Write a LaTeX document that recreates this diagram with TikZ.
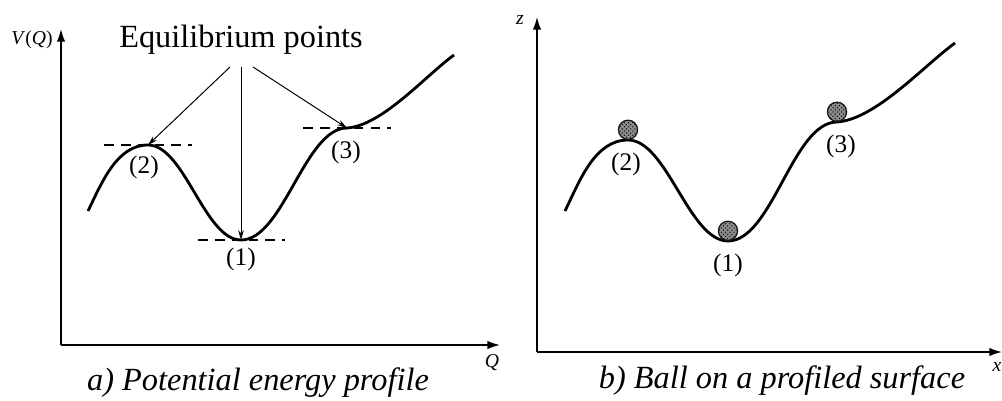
\documentclass[tikz,border=0pt]{standalone}
\usepackage{fontspec}
\setmainfont{Liberation Serif}
\usetikzlibrary{arrows.meta,patterns}

\begin{document}
\begin{tikzpicture}[x=0.025cm,y=-0.025cm,
  axis/.style={line width=1.1pt,-{Latex[length=9pt,width=6pt]}},
  curve/.style={line width=2pt},
  level/.style={line width=0.9pt,dash pattern=on 7pt off 5pt},
  pointer/.style={line width=0.7pt,-{Stealth[length=7pt,width=4pt]}},
  ball/.style={circle,draw=black!90,line width=0.9pt,minimum size=0.48cm,inner sep=0pt,
    fill=black!45,postaction={pattern=crosshatch dots,pattern color=black}},
  lbl/.style={font=\fontsize{18}{20}\selectfont},
  axlbl/.style={font=\fontsize{14}{16}\selectfont\itshape},
  caption/.style={font=\fontsize{23}{25}\selectfont\itshape}]
  \useasboundingbox (0,0) rectangle (1002,401);

  % a) potential energy profile
  \coordinate (a-o) at (61,345);
  \coordinate (a-ytip) at (61,29);
  \coordinate (a-xtip) at (500,345);
  \coordinate (a-s) at (88,211);
  \coordinate (a-p2) at (148,145);
  \coordinate (a-p1) at (241,240);
  \coordinate (a-p3) at (347,128);
  \coordinate (a-e) at (454,55);

  \draw[axis] (a-o) -- (a-ytip);
  \draw[axis] (a-o) -- (a-xtip);
  \node[axlbl] (a-ylbl) at (32,40) {V\/\upshape(\itshape Q\/\upshape)};
  \node[axlbl] (a-xlbl) at (492,363) {Q};

  \draw[level] (a-p2) ++(-44,0) -- ++(88,0);
  \draw[level] (a-p1) ++(-43,0) -- ++(87,0);
  \draw[level] (a-p3) ++(-44,0) -- ++(88,0);

  \draw[curve] (a-s) to[out=64,in=180,looseness=0.9] (a-p2)
    to[out=0,in=180,looseness=0.7] (a-p1)
    to[out=0,in=180,looseness=0.7] (a-p3)
    to[out=4,in=216,looseness=0.7] (a-e);

  \node[font=\fontsize{23}{25}\selectfont,anchor=base] (eq) at (241,48) {Equilibrium points};
  \draw[pointer] ([shift={(-11,19)}]eq.base) -- (a-p2);
  \draw[pointer] ([shift={(0,19)}]eq.base) -- (a-p1);
  \draw[pointer] ([shift={(12,19)}]eq.base) -- (a-p3);

  \node[lbl] (a-l2) at (144,167) {(2)};
  \node[lbl] (a-l1) at (241,259) {(1)};
  \node[lbl] (a-l3) at (346,152) {(3)};

  \node[caption] (a-cap) at (258,383) {a) Potential energy profile};

  % b) ball on a profiled surface
  \coordinate (b-o) at (537,352);
  \coordinate (b-ytip) at (537,17);
  \coordinate (b-xtip) at (1002,352);
  \coordinate (b-s) at (565,211);
  \coordinate (b-p2) at (628,140);
  \coordinate (b-p1) at (728,241);
  \coordinate (b-p3) at (837,122);
  \coordinate (b-e) at (955,43);

  \draw[axis] (b-o) -- (b-ytip);
  \draw[axis] (b-o) -- (b-xtip);
  \node[axlbl] (b-ylbl) at (520,20) {z};
  \node[axlbl] (b-xlbl) at (997,367) {x};

  \draw[curve] (b-s) to[out=64,in=180,looseness=0.9] (b-p2)
    to[out=0,in=180,looseness=0.7] (b-p1)
    to[out=0,in=180,looseness=0.7] (b-p3)
    to[out=4,in=216,looseness=0.7] (b-e);

  \node[ball,anchor=south] (b-ball2) at (b-p2) {};
  \node[ball,anchor=south] (b-ball1) at (b-p1) {};
  \node[ball,anchor=south] (b-ball3) at (b-p3) {};

  \node[lbl] (b-l2) at (626,164) {(2)};
  \node[lbl] (b-l1) at (728,265) {(1)};
  \node[lbl] (b-l3) at (841,146) {(3)};

  \node[caption] (b-cap) at (782,381) {b) Ball on a profiled surface};
\end{tikzpicture}
\end{document}
